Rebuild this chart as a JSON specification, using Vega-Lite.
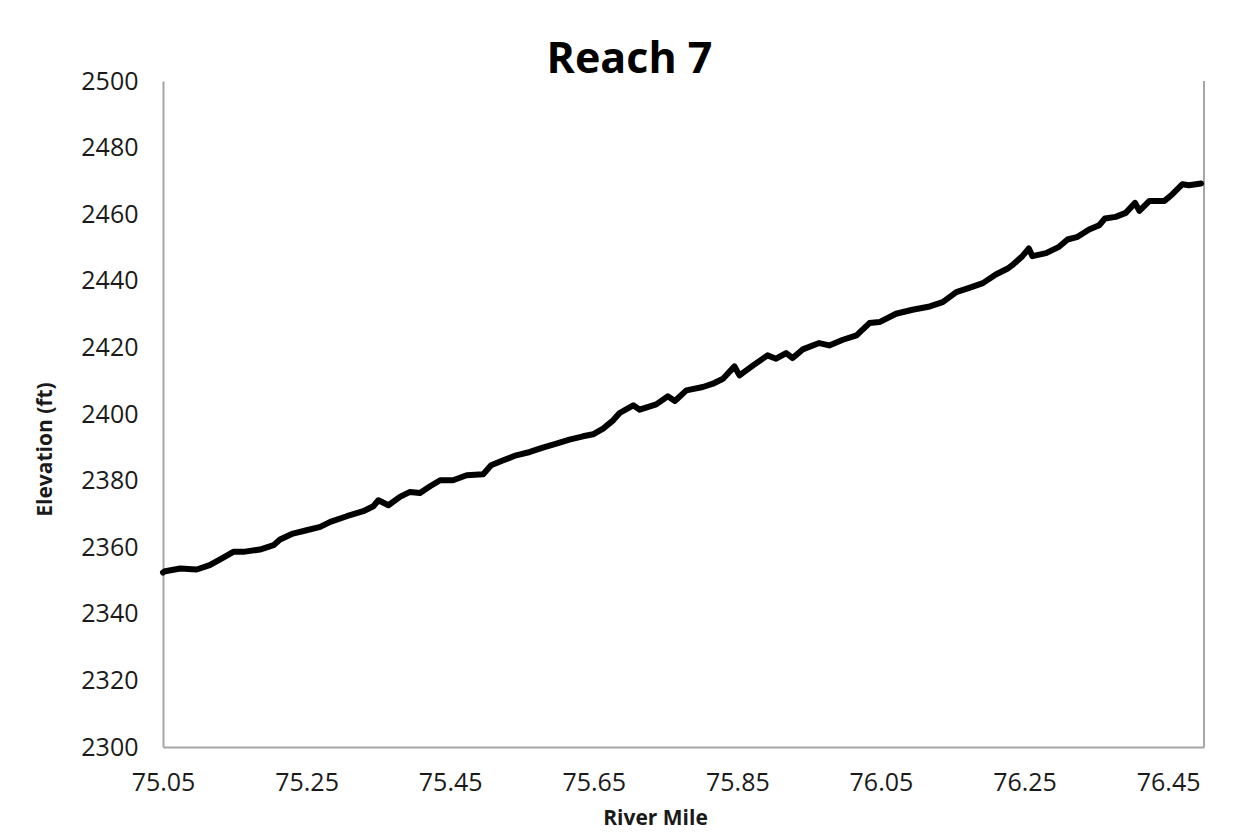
{
  "$schema": "https://vega.github.io/schema/vega-lite/v6.json",
  "width": 1041,
  "height": 666,
  "autosize": "none",
  "padding": {"left": 163, "top": 81, "right": 33, "bottom": 86},
  "background": "white",
  "config": {
    "view": {"stroke": null},
    "font": "Open Sans"
  },
  "title": {
    "text": "Reach 7",
    "font": "Open Sans",
    "fontSize": 43,
    "fontWeight": "bold",
    "color": "#000000",
    "anchor": "middle",
    "dx": -54,
    "dy": 60,
    "offset": 4,
    "baseline": "bottom"
  },
  "data": {
    "values": [
      {"mile": 75.050, "elev": 2352.4},
      {"mile": 75.053, "elev": 2352.8},
      {"mile": 75.074, "elev": 2353.6},
      {"mile": 75.097, "elev": 2353.3},
      {"mile": 75.115, "elev": 2354.6},
      {"mile": 75.129, "elev": 2356.3},
      {"mile": 75.148, "elev": 2358.6},
      {"mile": 75.162, "elev": 2358.6},
      {"mile": 75.185, "elev": 2359.3},
      {"mile": 75.204, "elev": 2360.6},
      {"mile": 75.213, "elev": 2362.3},
      {"mile": 75.231, "elev": 2364.1},
      {"mile": 75.250, "elev": 2365.1},
      {"mile": 75.269, "elev": 2366.1},
      {"mile": 75.283, "elev": 2367.6},
      {"mile": 75.306, "elev": 2369.3},
      {"mile": 75.329, "elev": 2370.8},
      {"mile": 75.343, "elev": 2372.3},
      {"mile": 75.350, "elev": 2374.1},
      {"mile": 75.364, "elev": 2372.6},
      {"mile": 75.380, "elev": 2375.1},
      {"mile": 75.394, "elev": 2376.6},
      {"mile": 75.408, "elev": 2376.3},
      {"mile": 75.422, "elev": 2378.3},
      {"mile": 75.436, "elev": 2380.1},
      {"mile": 75.454, "elev": 2380.1},
      {"mile": 75.473, "elev": 2381.6},
      {"mile": 75.496, "elev": 2381.9},
      {"mile": 75.507, "elev": 2384.6},
      {"mile": 75.524, "elev": 2386.1},
      {"mile": 75.542, "elev": 2387.6},
      {"mile": 75.561, "elev": 2388.6},
      {"mile": 75.579, "elev": 2389.9},
      {"mile": 75.598, "elev": 2391.1},
      {"mile": 75.616, "elev": 2392.3},
      {"mile": 75.635, "elev": 2393.3},
      {"mile": 75.649, "elev": 2393.9},
      {"mile": 75.663, "elev": 2395.6},
      {"mile": 75.677, "elev": 2398.1},
      {"mile": 75.686, "elev": 2400.3},
      {"mile": 75.705, "elev": 2402.6},
      {"mile": 75.714, "elev": 2401.3},
      {"mile": 75.737, "elev": 2402.9},
      {"mile": 75.753, "elev": 2405.3},
      {"mile": 75.763, "elev": 2403.9},
      {"mile": 75.779, "elev": 2407.1},
      {"mile": 75.802, "elev": 2408.1},
      {"mile": 75.816, "elev": 2409.1},
      {"mile": 75.830, "elev": 2410.6},
      {"mile": 75.846, "elev": 2414.3},
      {"mile": 75.853, "elev": 2411.6},
      {"mile": 75.872, "elev": 2414.6},
      {"mile": 75.892, "elev": 2417.6},
      {"mile": 75.904, "elev": 2416.6},
      {"mile": 75.918, "elev": 2418.3},
      {"mile": 75.927, "elev": 2416.8},
      {"mile": 75.941, "elev": 2419.4},
      {"mile": 75.964, "elev": 2421.3},
      {"mile": 75.978, "elev": 2420.6},
      {"mile": 75.997, "elev": 2422.3},
      {"mile": 76.016, "elev": 2423.6},
      {"mile": 76.034, "elev": 2427.3},
      {"mile": 76.048, "elev": 2427.6},
      {"mile": 76.071, "elev": 2430.1},
      {"mile": 76.094, "elev": 2431.3},
      {"mile": 76.118, "elev": 2432.3},
      {"mile": 76.136, "elev": 2433.6},
      {"mile": 76.155, "elev": 2436.6},
      {"mile": 76.173, "elev": 2437.9},
      {"mile": 76.192, "elev": 2439.3},
      {"mile": 76.210, "elev": 2441.9},
      {"mile": 76.226, "elev": 2443.6},
      {"mile": 76.233, "elev": 2444.7},
      {"mile": 76.247, "elev": 2447.4},
      {"mile": 76.256, "elev": 2449.7},
      {"mile": 76.261, "elev": 2447.4},
      {"mile": 76.280, "elev": 2448.3},
      {"mile": 76.298, "elev": 2450.2},
      {"mile": 76.310, "elev": 2452.4},
      {"mile": 76.324, "elev": 2453.2},
      {"mile": 76.340, "elev": 2455.4},
      {"mile": 76.354, "elev": 2456.7},
      {"mile": 76.362, "elev": 2458.7},
      {"mile": 76.377, "elev": 2459.2},
      {"mile": 76.391, "elev": 2460.4},
      {"mile": 76.404, "elev": 2463.4},
      {"mile": 76.410, "elev": 2461.0},
      {"mile": 76.424, "elev": 2464.0},
      {"mile": 76.445, "elev": 2464.0},
      {"mile": 76.456, "elev": 2466.0},
      {"mile": 76.470, "elev": 2469.0},
      {"mile": 76.479, "elev": 2468.7},
      {"mile": 76.496, "elev": 2469.2}
    ]
  },
  "layer": [
    {
      "mark": {"type": "rule", "color": "#a6a6a6", "strokeWidth": 2},
      "encoding": {
        "x": {"datum": 76.5, "type": "quantitative"},
        "y": {"datum": 2300, "type": "quantitative"},
        "y2": {"datum": 2500}
      }
    },
    {
      "mark": {"type": "line", "color": "#000000", "strokeWidth": 6, "strokeJoin": "round", "strokeCap": "round"},
      "encoding": {
        "x": {
          "field": "mile",
          "type": "quantitative",
          "scale": {"domain": [75.05, 76.5], "nice": false, "zero": false},
          "axis": {
            "title": "River Mile",
            "values": [75.05, 75.25, 75.45, 75.65, 75.85, 76.05, 76.25, 76.45],
            "format": ".2f",
            "grid": false,
            "ticks": false,
            "domainColor": "#a6a6a6",
            "domainWidth": 2,
            "labelFont": "Open Sans",
            "labelFontSize": 25,
            "labelColor": "#1a1a1a",
            "labelPadding": 23,
            "labelFlush": false,
            "labelOverlap": false,
            "titleFont": "Open Sans",
            "titleFontSize": 21,
            "titleFontWeight": "bold",
            "titleColor": "#1a1a1a",
            "titleX": 492,
            "titleY": 71,
            "titleAlign": "center",
            "titleBaseline": "middle"
          }
        },
        "y": {
          "field": "elev",
          "type": "quantitative",
          "scale": {"domain": [2300, 2500], "nice": false, "zero": false},
          "axis": {
            "title": "Elevation (ft)",
            "values": [2300, 2320, 2340, 2360, 2380, 2400, 2420, 2440, 2460, 2480, 2500],
            "format": "d",
            "grid": false,
            "ticks": false,
            "domainColor": "#a6a6a6",
            "domainWidth": 2,
            "labelFont": "Open Sans",
            "labelFontSize": 25,
            "labelColor": "#1a1a1a",
            "labelPadding": 25,
            "labelFlush": false,
            "labelOverlap": false,
            "titleFont": "Open Sans",
            "titleFontSize": 21,
            "titleFontWeight": "bold",
            "titleColor": "#1a1a1a",
            "titleAngle": -90,
            "titleX": -118,
            "titleY": 368,
            "titleAlign": "center",
            "titleBaseline": "middle"
          }
        }
      }
    }
  ]
}
